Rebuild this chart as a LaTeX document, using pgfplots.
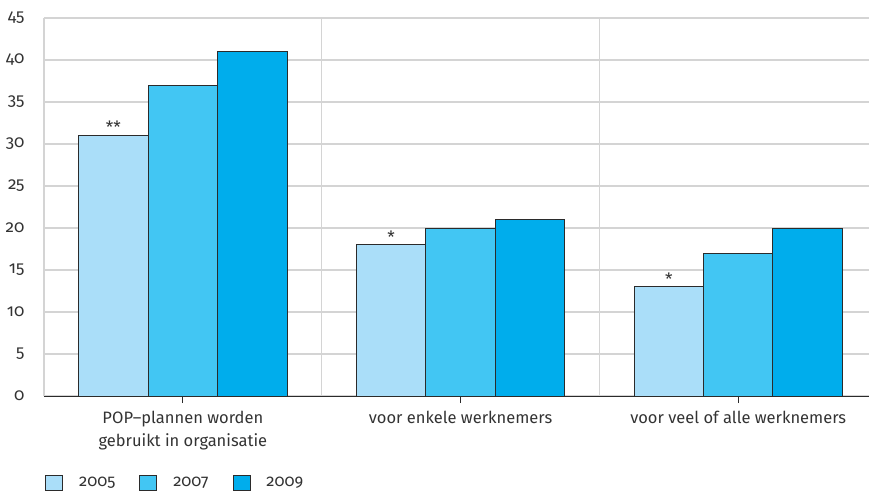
\documentclass[border=0pt]{standalone}
\usepackage{fontspec}
\setmainfont{Fira Sans}[Numbers=OldStyle]
\usepackage{pgfplots}
\pgfplotsset{compat=1.18}

\definecolor{txt}{HTML}{333333}
\definecolor{gridc}{HTML}{D4D4D4}
\definecolor{cA}{HTML}{AADEF9}
\definecolor{cB}{HTML}{42C6F3}
\definecolor{cC}{HTML}{00ADEC}
\definecolor{edge}{HTML}{2B2B2B}

\begin{document}
\fontsize{16}{19}\selectfont
\begin{tikzpicture}[x=1pt,y=1pt]
\useasboundingbox (-44,-94) rectangle (825,396);
\begin{axis}[
  at={(0,0)}, anchor=south west,
  scale only axis,
  width=825pt, height=378pt,
  ybar=0pt, bar width=0.25,
  xmin=-0.5, xmax=2.471,
  ymin=0, ymax=45,
  ytick={0,5,...,45},
  xtick={0,1,2},
  xticklabels={{POP--plannen worden\\gebruikt in organisatie},{voor enkele werknemers},{voor veel of alle werknemers}},
  xticklabel style={align=center, text=txt, font=\fontsize{16.5}{23}\selectfont, yshift=-3pt},
  yticklabel style={text=txt, font=\fontsize{17}{19}\selectfont, xshift=-14pt},
  /pgf/number format/assume math mode=true,
  minor xtick={0.5,1.5},
  xminorgrids, ymajorgrids,
  grid style={draw=gridc, line width=1.2pt},
  minor grid style={draw=gridc, line width=1.2pt},
  axis x line*=bottom, axis y line*=left,
  x axis line style={draw=edge, line width=1pt},
  y axis line style={draw=gridc, line width=1.2pt},
  major x tick style={draw=edge, line width=0.8pt},
  xtick align=outside, major tick length=7pt,
  minor tick length=0pt,
  ytick style={draw=none},
  every axis plot/.append style={draw=edge, line width=0.9pt},
  legend style={at={(rel axis cs:0,0)}, anchor=west, yshift=-87pt, xshift=1pt,
    draw=none, fill=none, inner sep=0pt, legend columns=-1,
    /tikz/every even column/.append style={column sep=22pt},
    font=\fontsize{16.5}{19}\selectfont, text=txt},
  legend image code/.code={\draw[#1, line width=0.9pt] (0pt,-7.5pt) rectangle (17pt,7.5pt);},
  nodes near coords style={text=txt, font=\fontsize{17}{19}\selectfont, anchor=south, yshift=-4pt},
]
\addplot[fill=cA, nodes near coords={\pgfplotspointmeta}, point meta=explicit symbolic]
  coordinates {(0,31) [**] (1,18) [*] (2,13) [*]};
\addplot[fill=cB] coordinates {(0,37) (1,20) (2,17)};
\addplot[fill=cC] coordinates {(0,41) (1,21) (2,20)};
\legend{\hspace{14pt}2005,\hspace{14pt}2007,\hspace{14pt}2009}
\end{axis}
\end{tikzpicture}
\end{document}
